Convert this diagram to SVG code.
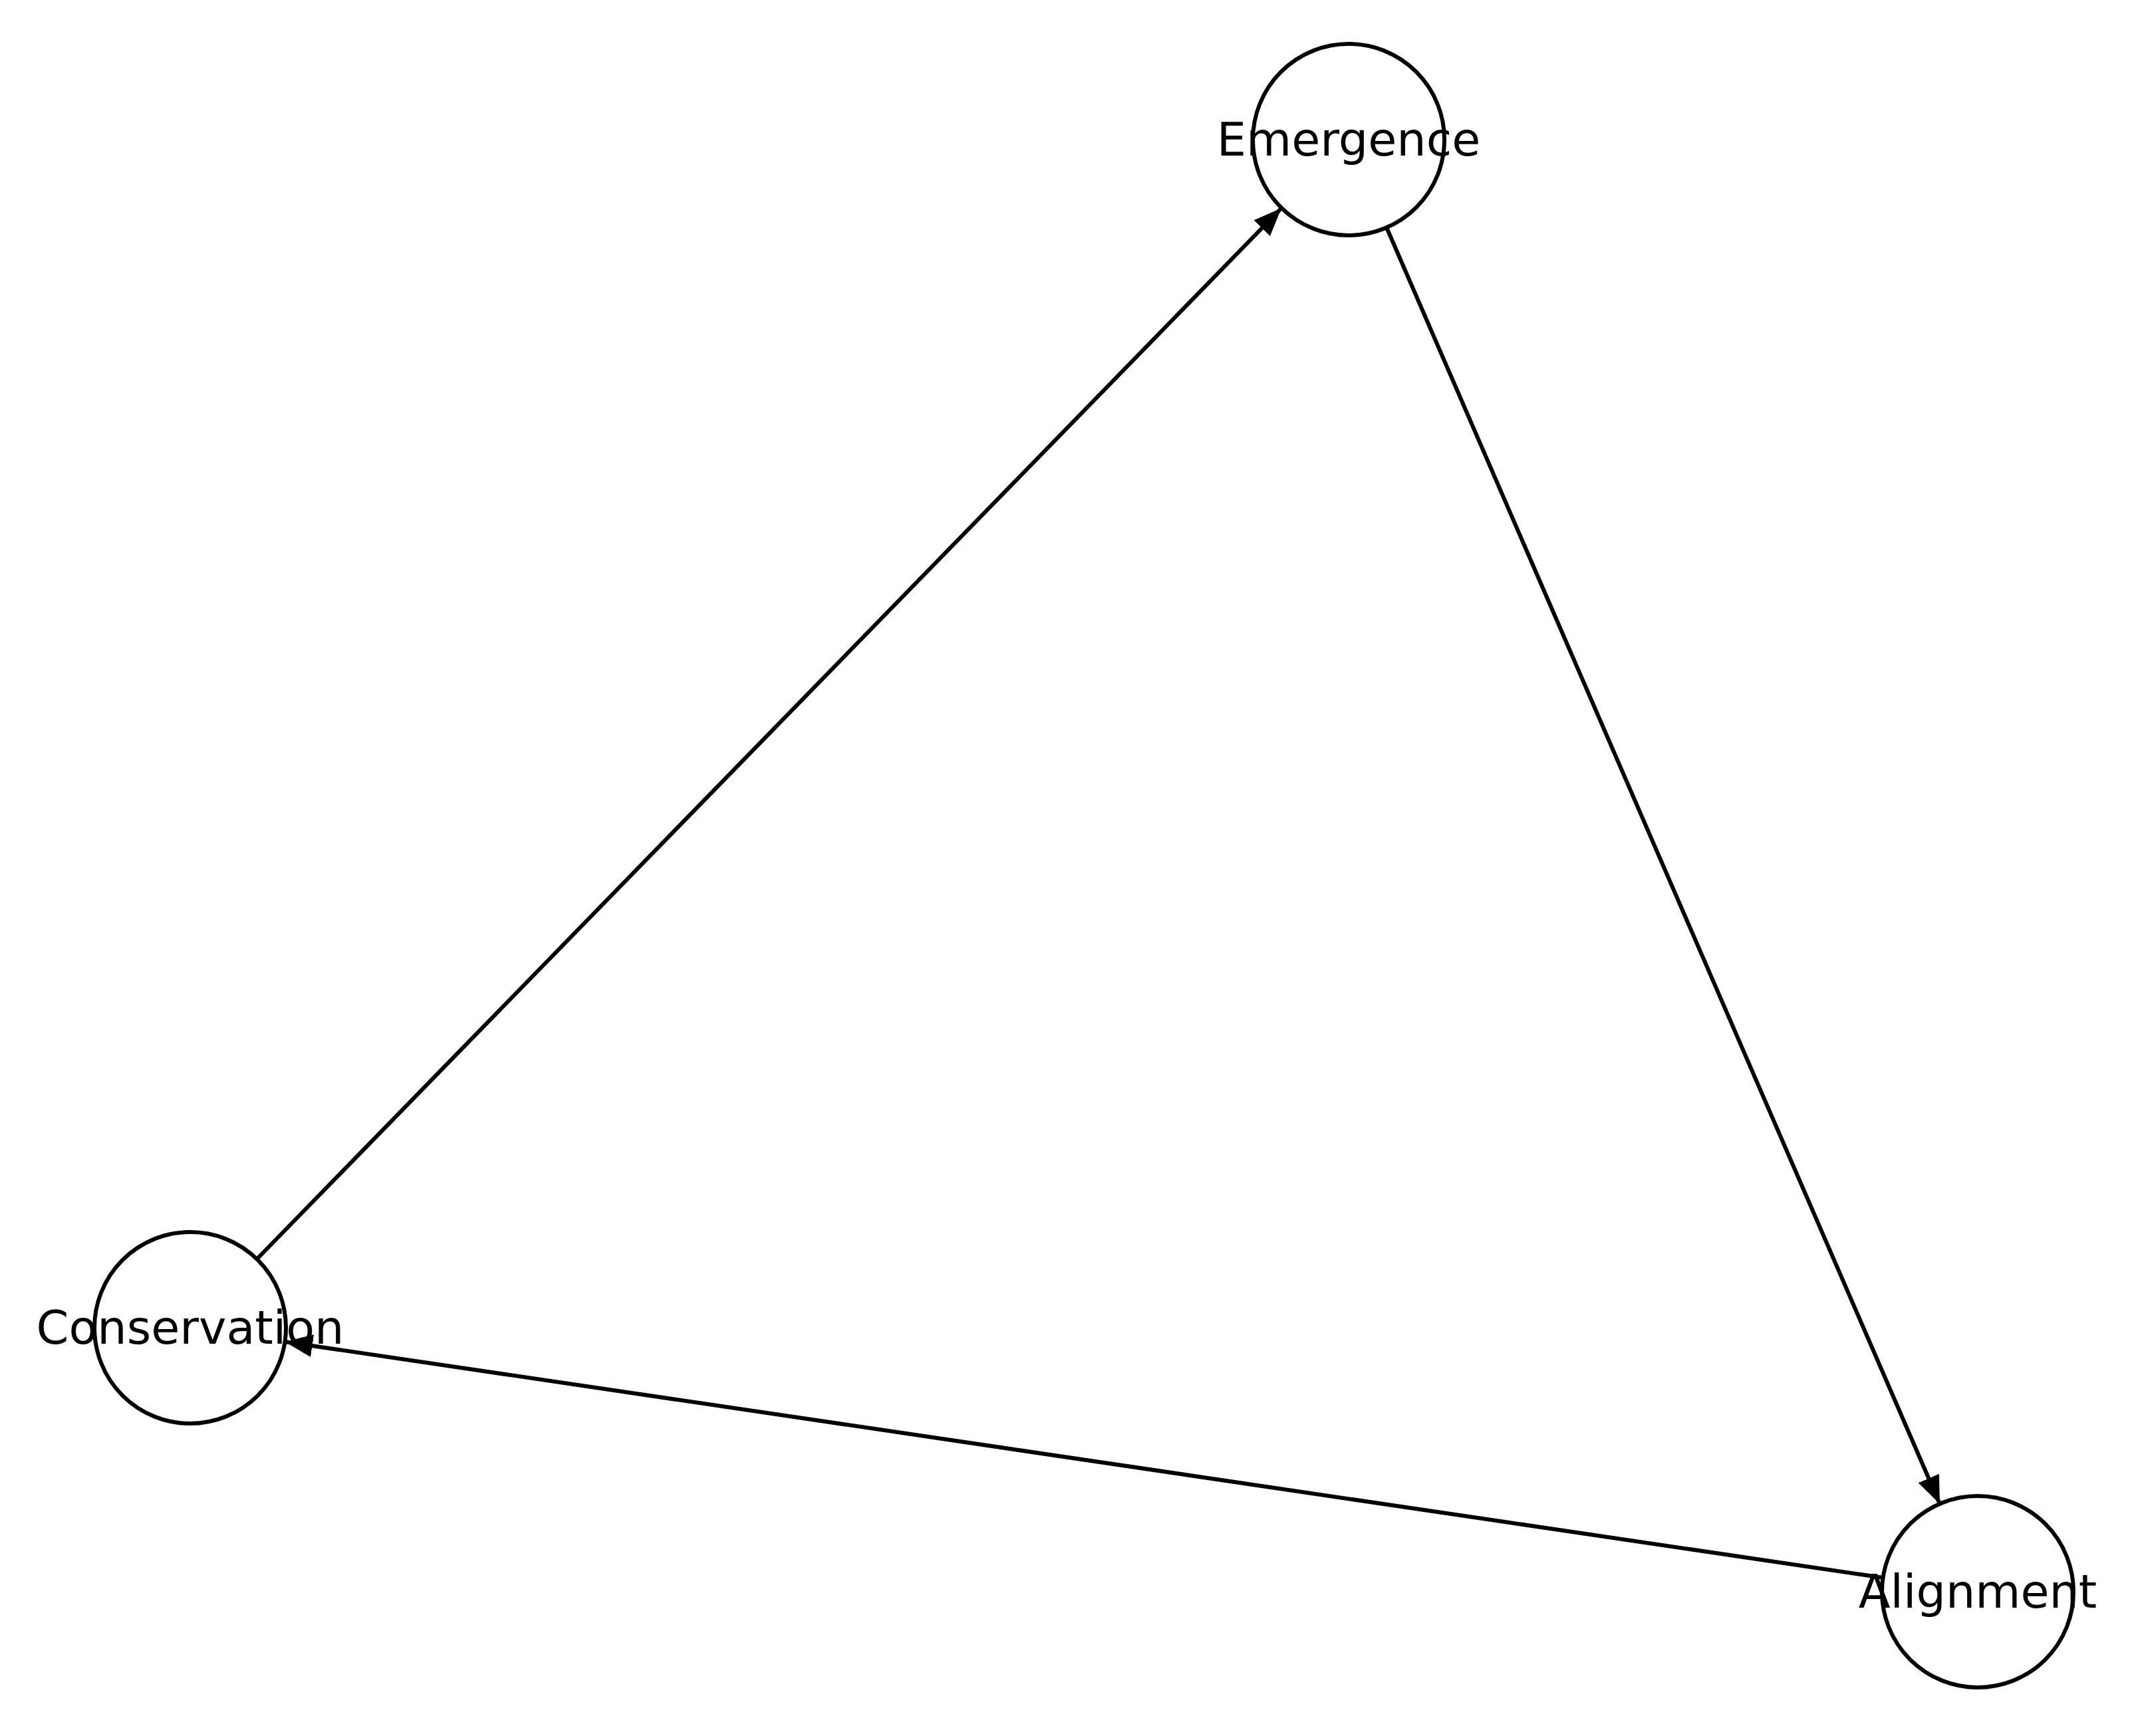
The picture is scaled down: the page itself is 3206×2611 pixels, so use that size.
<svg xmlns="http://www.w3.org/2000/svg" width="3206" height="2611" viewBox="0 0 3206 2611">
<style>
.node{fill:#fff;stroke:#000;stroke-width:6}
.lbl{font-family:"DejaVu Sans",sans-serif;font-size:70px;fill:#000;text-anchor:middle;dominant-baseline:central}
.edge{stroke:#000;stroke-width:6;fill:none}
</style>
<defs>
<marker id="ah" markerUnits="userSpaceOnUse" markerWidth="44" markerHeight="36" refX="42" refY="17" orient="auto">
<path d="M0,0 L42,17 L0,34 Z" fill="#000"/>
</marker>
</defs>
<rect width="3206" height="2611" fill="#fff"/>
<g id="connectors">
<line class="edge" x1="386" y1="1894" x2="1927" y2="313" marker-end="url(#ah)"/>
<line class="edge" x1="2085" y1="342" x2="2917" y2="2262" marker-end="url(#ah)"/>
<line class="edge" x1="2832" y1="2373" x2="428" y2="2018" marker-end="url(#ah)"/>
</g>
<g id="emergence"><circle class="node" cx="2028" cy="210" r="144"/><text class="lbl" x="2028" y="210">Emergence</text></g>
<g id="conservation"><circle class="node" cx="286" cy="1997" r="144"/><text class="lbl" x="286" y="1997">Conservation</text></g>
<g id="alignment"><circle class="node" cx="2974" cy="2394" r="144"/><text class="lbl" x="2974" y="2394">Alignment</text></g>
</svg>
